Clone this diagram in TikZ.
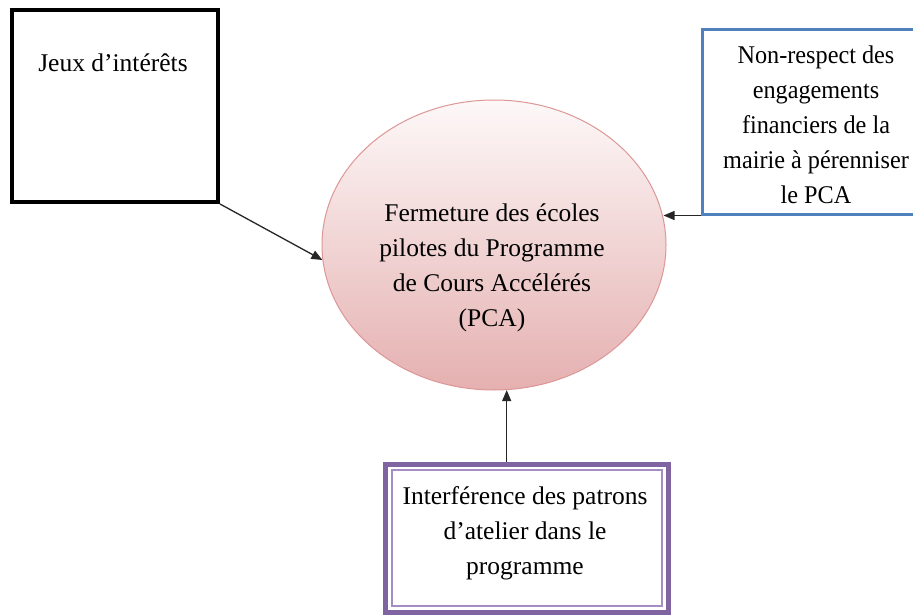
\documentclass[tikz,border=0pt]{standalone}
\usepackage{fontspec}
\setmainfont{Liberation Serif}
\usetikzlibrary{shapes.geometric,arrows.meta}
\definecolor{bluebox}{RGB}{79,129,189}
\definecolor{purplebox}{RGB}{128,100,162}
\definecolor{purplein}{RGB}{165,140,195}
\definecolor{pcatop}{RGB}{253,248,248}
\definecolor{pcabot}{RGB}{229,176,176}
\definecolor{pcaline}{RGB}{222,150,150}
\tikzset{
  txt/.style={align=center,inner sep=0pt,font=\fontsize{25.5}{35}\selectfont},
  conn/.style={draw=black!85,line width=1.3pt,-{Triangle[length=11pt,width=9pt]}},
}
\begin{document}
\begin{tikzpicture}[x=1pt,y=-1pt]
\fill[white] (0,0) rectangle (913,615);
\useasboundingbox (0,0) rectangle (913,615);
% left box
\node[draw=black,line width=4pt,minimum width=206pt,minimum height=192pt,inner sep=0pt] (jeux) at (115,106) {};
\node[txt] (jeuxt) at (113,63) {Jeux d’intérêts};
% right box
\node[draw=bluebox,line width=3pt,minimum width=226pt,minimum height=184pt,inner sep=0pt] (nonresp) at (815,122) {};
\node[txt,xscale=0.95] (nonrespt) at (816,125) {Non-respect des\\engagements\\financiers de la\\mairie à pérenniser\\le PCA};
% ellipse
\node[ellipse,draw=pcaline,line width=1pt,top color=pcatop,bottom color=pcabot,minimum width=344pt,minimum height=290pt,inner sep=0pt] (pca) at (494,245) {};
\node[txt] (pcat) at (492,268) {Fermeture des écoles\\pilotes du Programme\\de Cours Accélérés\\(PCA)};
% bottom box
\node[draw=purplebox,line width=5pt,minimum width=283pt,minimum height=148pt,inner sep=0pt] (interf) at (527,538) {};
\node[draw=purplein,line width=1.3pt,minimum width=270pt,minimum height=136pt,inner sep=0pt] (interfin) at (527,538) {};
\node[txt] (interft) at (525,533) {Interférence des patrons\\d’atelier dans le\\programme};
% connectors
\draw[conn] (jeux.south east) -- (pca.185);
\draw[conn] (nonresp.south west) -- (nonresp.south west -| pca.9);
\draw[conn] (interf.north -| pca.-85) -- (pca.-85);
\end{tikzpicture}
\end{document}
